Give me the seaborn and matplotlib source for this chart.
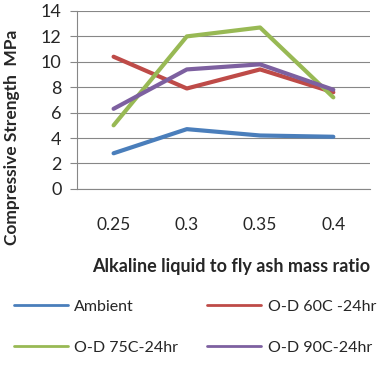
import pandas as pd
import seaborn as sns
import matplotlib.pyplot as plt

# Chart data
ratios = ['0.25', '0.3', '0.35', '0.4']
series = ['Ambient', 'O-D 60C -24hr', 'O-D 75C-24hr', 'O-D 90C-24hr']
ambient = [2.8, 4.7, 4.2, 4.1]
od_60 = [10.4, 7.9, 9.4, 7.6]
od_75 = [5.0, 12.0, 12.7, 7.2]
od_90 = [6.3, 9.4, 9.8, 7.8]
colors = ['#4A7EBB', '#BE4B48', '#98B954', '#7D60A0']

# Long-form table for seaborn
rows = []
for name, vals in zip(series, [ambient, od_60, od_75, od_90]):
    for r, v in zip(ratios, vals):
        rows.append({'ratio': r, 'strength': v, 'series': name})
df = pd.DataFrame(rows)

sns.set_style('white')
plt.rcParams['font.family'] = ['Lato', 'DejaVu Sans']

fig = plt.figure(figsize=(3.81, 3.66), dpi=100)
ax = fig.add_axes([0.202, 0.484, 0.769, 0.486])

sns.lineplot(data=df, x='ratio', y='strength', hue='series', hue_order=series,
             palette=colors, linewidth=3, sort=False, ax=ax, legend=False)

ax.set_xlim(-0.5, 3.5)
ax.set_ylim(0, 14)
ax.set_yticks(range(0, 15, 2))
ax.yaxis.grid(True, color='#878787', linewidth=0.8)
ax.xaxis.grid(False)
for s in ['top', 'right']:
    ax.spines[s].set_visible(False)
for s in ['left', 'bottom']:
    ax.spines[s].set_color('#878787')
    ax.spines[s].set_linewidth(0.8)
ax.tick_params(axis='y', left=True, length=5, color='#878787', labelsize=13, pad=6)
ax.tick_params(axis='x', bottom=False, labelsize=12.5, pad=17)

ax.set_xlabel('Alkaline liquid to fly ash mass ratio', fontsize=13,
              fontweight='bold')
ax.set_ylabel('Compressive Strength  MPa', fontsize=12.5, fontweight='bold')
ax.xaxis.set_label_coords(0.525, -0.39)
ax.yaxis.set_label_coords(-0.195, 0.29)

# legend rows: Ambient / 60C, then 75C / 90C
order = [0, 2, 1, 3]
handles = [plt.Line2D([], [], color=colors[i], linewidth=2) for i in order]
labels = [series[i] for i in order]
fig.legend(handles, labels, loc='lower left', bbox_to_anchor=(0.015, 0.008),
           ncol=2, frameon=False, fontsize=11.5, handlelength=3.4,
           columnspacing=1.8, handletextpad=0.4, labelspacing=1.7,
           borderaxespad=0.1)

fig.savefig('out.png', dpi=100)
